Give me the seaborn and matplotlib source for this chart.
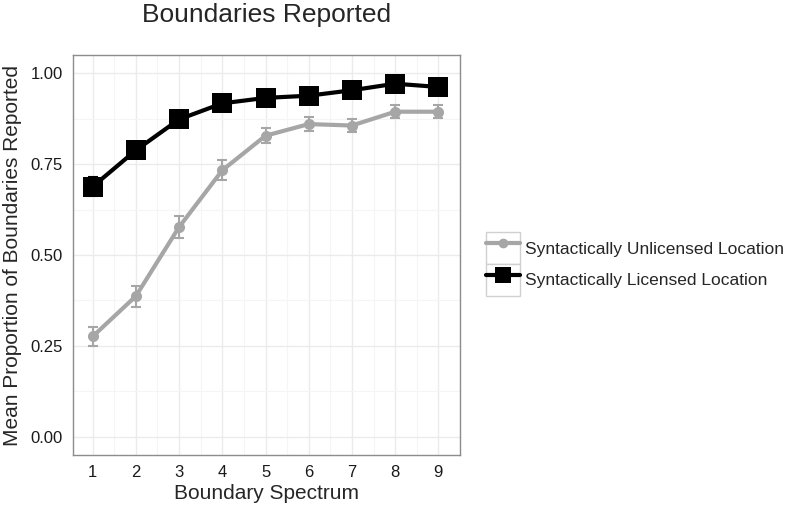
import pandas as pd
import seaborn as sns
import matplotlib.pyplot as plt
from matplotlib.patches import Rectangle
from matplotlib.lines import Line2D
from matplotlib.legend_handler import HandlerTuple
from matplotlib.ticker import MultipleLocator

# values
spectrum = [1, 2, 3, 4, 5, 6, 7, 8, 9]
unlicensed_mean = [0.276, 0.387, 0.577, 0.733, 0.828, 0.860, 0.856, 0.894, 0.894]
unlicensed_se = [0.027, 0.029, 0.030, 0.027, 0.021, 0.019, 0.019, 0.018, 0.018]
licensed_mean = [0.688, 0.788, 0.873, 0.917, 0.932, 0.938, 0.953, 0.971, 0.962]
licensed_se = [0.027, 0.020, 0.014, 0.012, 0.011, 0.011, 0.010, 0.009, 0.010]
conditions = ['Syntactically Unlicensed Location', 'Syntactically Licensed Location']
colors = ['#a6a6a6', '#000000']


def build_df():
    df_u = pd.DataFrame({'spectrum': spectrum, 'mean': unlicensed_mean,
                         'se': unlicensed_se, 'condition': conditions[0]})
    df_l = pd.DataFrame({'spectrum': spectrum, 'mean': licensed_mean,
                         'se': licensed_se, 'condition': conditions[1]})
    return pd.concat([df_u, df_l], ignore_index=True)


def main():
    sns.set_style('white')
    plt.rcParams['font.family'] = ['Liberation Sans', 'DejaVu Sans']

    df = build_df()
    fig = plt.figure(figsize=(8, 5.09), dpi=100)
    ax = fig.add_axes([0.091, 0.106, 0.484, 0.786])

    styles = [('o', 8, 3.0, 7), ('s', 15, 3.0, 11)]
    handles = []
    for cond, col, (mk, ms, lw, key_ms) in zip(conditions, colors, styles):
        sub = df[df['condition'] == cond]
        ax.errorbar(sub['spectrum'], sub['mean'], yerr=sub['se'], fmt='none',
                    ecolor=col, elinewidth=1.5, capsize=3.6, capthick=1.5, zorder=2)
        sns.lineplot(data=sub, x='spectrum', y='mean', color=col, marker=mk,
                     markersize=ms, linewidth=lw, markeredgewidth=0, ax=ax, zorder=3)
        box = Rectangle((0, 0), 1, 1, facecolor='white', edgecolor='#d0d0d0', linewidth=1)
        ln = Line2D([], [], color=col, marker=mk, markersize=key_ms,
                    linewidth=lw, markeredgewidth=0)
        handles.append((box, ln))

    ax.set_xlim(0.54, 9.5)
    ax.set_ylim(-0.05, 1.05)
    ax.set_xticks(spectrum)
    ax.set_yticks([0, 0.25, 0.5, 0.75, 1.0])
    ax.set_yticklabels(['0.00', '0.25', '0.50', '0.75', '1.00'])
    ax.xaxis.set_minor_locator(MultipleLocator(0.5))
    ax.yaxis.set_minor_locator(MultipleLocator(0.125))
    ax.grid(True, which='major', color='#ebebeb', linewidth=1.0)
    ax.grid(True, which='minor', color='#f5f5f5', linewidth=0.8)
    ax.set_axisbelow(True)
    for s in ax.spines.values():
        s.set_color('#8c8c8c')
        s.set_linewidth(1.0)
    ax.tick_params(which='major', direction='out', length=4, width=1,
                   color='#333333', labelsize=12, labelcolor='#1a1a1a', pad=3)
    ax.tick_params(which='minor', length=0)
    ax.set_xlabel('Boundary Spectrum', fontsize=15, labelpad=3)
    ax.set_ylabel('Mean Proportion of Boundaries Reported', fontsize=15, labelpad=6)
    ax.set_title('Boundaries Reported', fontsize=19, pad=24)

    fig.legend(handles, conditions, handler_map={tuple: HandlerTuple(ndivide=1)},
               loc='center left', bbox_to_anchor=(0.59, 0.481), frameon=False,
               fontsize=12.5, handlelength=1.96, handleheight=2.45, handletextpad=0.3,
               labelspacing=0.0, borderpad=0.3)

    fig.savefig('out.png', dpi=100)


if __name__ == '__main__':
    main()
